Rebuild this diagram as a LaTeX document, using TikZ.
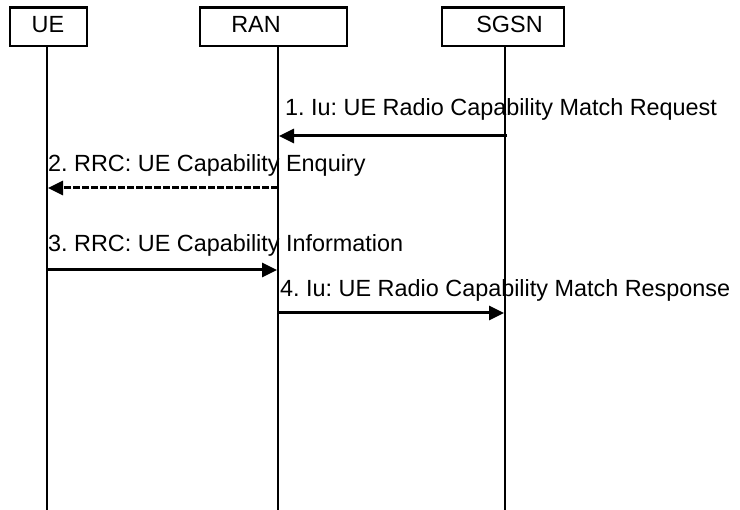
\documentclass[tikz,border=0pt]{standalone}
\usepackage{fontspec}
\setmainfont{Liberation Sans}
\usetikzlibrary{arrows.meta}
\frenchspacing
\begin{document}
\begin{tikzpicture}[x=1pt,y=-1pt,
  entity/.style={draw, line width=2.5pt, inner sep=0pt},
  etext/.style={anchor=base, inner sep=0pt, font=\fontsize{23.4}{28}\selectfont},
  lifeline/.style={line width=1.3pt},
  msg/.style={line width=3pt, -{Triangle[length=15pt,width=14pt]}, shorten >=-1pt},
  msgdash/.style={msg, dash pattern=on 7pt off 2pt},
  mtext/.style={anchor=base west, inner sep=0pt, font=\fontsize{23.4}{28}\selectfont}]
\useasboundingbox (0,0) rectangle (740,510);
% entity boxes
\node[entity, minimum width=77pt, minimum height=38.5pt] (ue) at (48.5,27) {};
\node[entity, minimum width=147pt, minimum height=38.5pt] (ran) at (273.5,27) {};
\node[entity, minimum width=122pt, minimum height=38.5pt] (sgsn) at (503,27) {};
\node[etext] (uet) at (48,33) {UE};
\node[etext] (rant) at (256,33) {RAN};
\node[etext] (sgsnt) at (509.5,33) {SGSN};
% lifelines
\coordinate (ueend) at (47,510);
\coordinate (ranend) at (278,510);
\coordinate (sgsnend) at (505,510);
\draw[lifeline] (ue.south -| ueend) -- (ueend);
\draw[lifeline] (ran.south -| ranend) -- (ranend);
\draw[lifeline] (sgsn.south -| sgsnend) -- (sgsnend);
% message end points
\coordinate (s1) at (507,136); \coordinate (r1) at (280,136);
\coordinate (r2) at (278,188); \coordinate (u2) at (49,188);
\coordinate (u3) at (47,270); \coordinate (r3) at (276,270);
\coordinate (r4) at (278,313); \coordinate (s4) at (503,313);
% messages
\draw[msg] (s1) -- (r1);
\draw[msgdash] (r2) -- (u2);
\draw[msg] (u3) -- (r3);
\draw[msg] (r4) -- (s4);
% labels
\node[mtext] (l1) at (285,116) {1. Iu: UE Radio Capability Match Request};
\node[mtext] (l2) at (48,172) {2. RRC: UE Capability Enquiry};
\node[mtext] (l3) at (48,252) {3. RRC: UE Capability Information};
\node[mtext] (l4) at (280,297) {4. Iu: UE Radio Capability Match Response};
\end{tikzpicture}
\end{document}
